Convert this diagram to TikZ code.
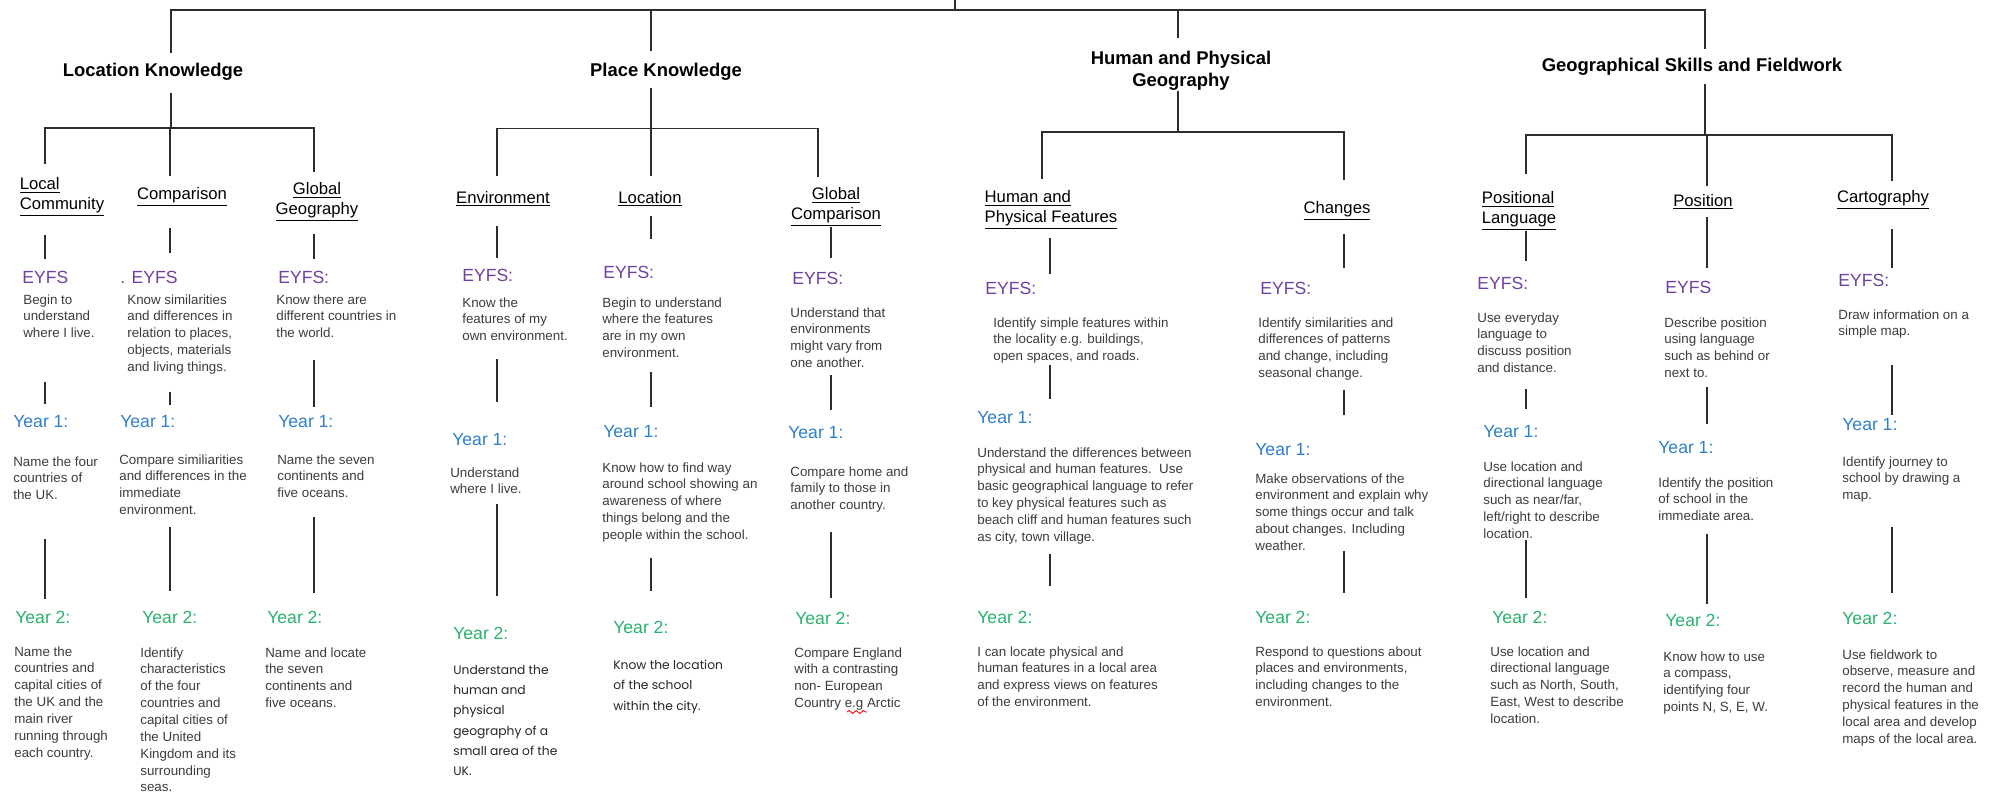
\documentclass[tikz,border=0pt]{standalone}
\usepackage{fontspec}
\setmainfont{Liberation Sans}
\newfontfamily\comicfont{Poppins}
\usetikzlibrary{decorations.pathmorphing}
\definecolor{eyfscol}{RGB}{112,64,160}
\definecolor{yronecol}{RGB}{46,128,200}
\definecolor{yrtwocol}{RGB}{40,178,110}
\definecolor{bodycol}{RGB}{60,60,60}
\definecolor{linecol}{RGB}{45,45,45}
\newdimen\pxu \pxu=0.02cm
\begin{document}
\begin{tikzpicture}[x=0.02cm, y=-0.02cm,
  head/.style={font=\bfseries\fontsize{10.5}{12.5}\selectfont, align=center, inner sep=0pt},
  sub/.style={font=\fontsize{9.5}{11.5}\selectfont, align=center, inner sep=0pt},
  subl/.style={sub, align=left},
  eyfs/.style={anchor=west, inner sep=0pt, font=\fontsize{10}{12}\selectfont, text=eyfscol},
  yrone/.style={eyfs, text=yronecol},
  yrtwo/.style={eyfs, text=yrtwocol},
  txt/.style={anchor=north west, inner sep=0pt, align=left, font=\fontsize{7.6}{9.6}\selectfont, text=bodycol},
  comic/.style={txt, font=\comicfont\fontsize{7}{11.5}\selectfont, text=black!85},
  conn/.style={draw=linecol, line width=0.9pt},
  gap/.style 2 args={shorten <=#1\pxu, shorten >=#2\pxu}]
\fill[white] (0,0) rectangle (2002,798);
\useasboundingbox (0,0) rectangle (2002,798);

% rails and line columns
\coordinate (root) at (955,0);
\coordinate (rail) at (0,10);
\coordinate (lkx) at (171,0);
\coordinate (pkx) at (651,0);
\coordinate (hpx) at (1178,0);
\coordinate (gsx) at (1705,0);
\coordinate (lkbar) at (0,128);
\coordinate (pkbar) at (0,128.5);
\coordinate (hpbar) at (0,132);
\coordinate (gsbar) at (0,135);
\coordinate (c1) at (45,0);
\coordinate (c2) at (170,0);
\coordinate (c3) at (314,0);
\coordinate (c4) at (497,0);
\coordinate (c5) at (651,0);
\coordinate (c6) at (831,0);
\coordinate (d6) at (818,0);
\coordinate (c7) at (1050,0);
\coordinate (d7) at (1042,0);
\coordinate (c8) at (1344,0);
\coordinate (c9) at (1526,0);
\coordinate (c10) at (1707,0);
\coordinate (c11) at (1892,0);

% headings
\node[head] (lk) at (153,72) {Location Knowledge};
\node[head] (pk) at (666,72) {Place Knowledge};
\node[head] (hp) at (1181,71) {Human and Physical\\Geography};
\node[head] (gs) at (1692,67) {Geographical Skills and Fieldwork};

\draw[conn] (root) -- (root |- rail);
\draw[conn, gap={10}{9}] (lkx |- lk.north) -- (lkx |- rail) -- (gsx |- rail) -- (gsx |- gs.north);
\draw[conn, gap={0}{12}] (pkx |- rail) -- (pkx |- pk.north);
\draw[conn, gap={0}{13}] (hpx |- rail) -- (hpx |- hp.north);

% sub headings
\node[subl] (s1) at (62,197) {\underline{Local}\\\underline{Community}};
\node[sub] (s2) at (182,197) {\underline{Comparison}};
\node[sub] (s3) at (317,202) {\underline{Global}\\\underline{Geography}};
\node[sub] (s4) at (503,199) {\underline{Environment}};
\node[sub] (s5) at (650,199) {\underline{Location}};
\node[sub] (s6) at (836,207) {\underline{Global}\\\underline{Comparison}};
\node[subl] (s7) at (1051,210) {\underline{Human and}\\\underline{Physical Features}};
\node[sub] (s8) at (1337,211) {\underline{Changes}};
\node[subl] (s9) at (1519,211) {\underline{Positional}\\\underline{Language}};
\node[sub] (s10) at (1703,202) {\underline{Position}};
\node[sub] (s11) at (1883,200) {\underline{Cartography}};

\draw[conn, gap={12}{0}] (lkx |- lk.south) -- (lkx |- lkbar);
\draw[conn, gap={13}{10}] (c1 |- s1.north) -- (c1 |- lkbar) -- (c3 |- lkbar) -- (c3 |- s3.north);
\draw[conn, gap={0}{11}] (c2 |- lkbar) -- (c2 |- s2.north);

\draw[conn, gap={7}{0}] (pkx |- pk.south) -- (pkx |- pkbar);
\draw[conn, gap={15}{10}] (c4 |- s4.north) -- (c4 |- pkbar) -- (d6 |- pkbar) -- (d6 |- s6.north);
\draw[conn, gap={0}{15}] (c5 |- pkbar) -- (c5 |- s5.north);

\draw[conn, gap={0}{0}] (hpx |- hp.south) -- (hpx |- hpbar);
\draw[conn, gap={11}{21}] (d7 |- s7.north) -- (d7 |- hpbar) -- (c8 |- hpbar) -- (c8 |- s8.north);

\draw[conn, gap={8}{0}] (gsx |- gs.south) -- (gsx |- gsbar);
\draw[conn, gap={17}{9}] (c9 |- s9.north) -- (c9 |- gsbar) -- (c11 |- gsbar) -- (c11 |- s11.north);
\draw[conn, gap={0}{8}] (c10 |- gsbar) -- (c10 |- s10.north);

% Local Community
\node[eyfs] (e1) at (22,277) {EYFS};
\node[txt] (et1) at (23,294) {Begin to\\understand\\where I live.};
\node[yrone] (a1) at (13,422) {Year 1:};
\node[txt] (at1) at (13,456) {Name the four\\countries of\\the UK.};
\node[yrtwo] (b1) at (15,617) {Year 2:};
\node[txt] (bt1) at (14,646) {Name the\\countries and\\capital cities of\\the UK and the\\main river\\running through\\each country.};
\draw[conn, gap={18}{11}] (s1.south -| c1) -- (e1.north -| c1);
\draw[conn, gap={44}{12}] (et1.south -| c1) -- (a1.north -| c1);
\draw[conn, gap={39}{11}] (at1.south -| c1) -- (b1.north -| c1);

% Comparison
\node[eyfs] (e2) at (120,277) {. EYFS};
\node[txt] (et2) at (127,294) {Know similarities\\and differences in\\relation to places,\\objects, materials\\and living things.};
\node[yrone] (a2) at (120,422) {Year 1:};
\node[txt] (at2) at (119,454) {Compare similiarities\\and differences in the\\immediate\\environment.};
\node[yrtwo] (b2) at (142,617) {Year 2:};
\node[txt] (bt2) at (140,647) {Identify\\characteristics\\of the four\\countries and\\capital cities of\\the United\\Kingdom and its\\surrounding\\seas.};
\draw[conn, gap={21}{17}] (s2.south -| c2) -- (e2.north -| c2);
\draw[conn, gap={17}{11}] (et2.south -| c2) -- (a2.north -| c2);
\draw[conn, gap={12}{19}] (at2.south -| c2) -- (b2.north -| c2);

% Global Geography
\node[eyfs] (e3) at (278,277) {EYFS:};
\node[txt] (et3) at (276,294) {Know there are\\different countries in\\the world.};
\node[yrone] (a3) at (278,422) {Year 1:};
\node[txt] (at3) at (277,454) {Name the seven\\continents and\\five oceans.};
\node[yrtwo] (b3) at (267,617) {Year 2:};
\node[txt] (bt3) at (265,647) {Name and locate\\the seven\\continents and\\five oceans.};
\draw[conn, gap={12}{11}] (s3.south -| c3) -- (e3.north -| c3);
\draw[conn, gap={22}{9}] (et3.south -| c3) -- (a3.north -| c3);
\draw[conn, gap={19}{17}] (at3.south -| c3) -- (b3.north -| c3);

% Environment
\node[eyfs] (e4) at (462,275) {EYFS:};
\node[txt] (et4) at (462,297) {Know the\\features of my\\own environment.};
\node[yrone] (a4) at (452,440) {Year 1:};
\node[txt] (at4) at (450,467) {Understand\\where I live.};
\node[yrtwo] (b4) at (453,633) {Year 2:};
\node[comic] (bt4) at (453,665) {Understand the\\human and\\physical\\geography of a\\small area of the\\UK.};
\draw[conn, gap={19}{10}] (s4.south -| c4) -- (e4.north -| c4);
\draw[conn, gap={18}{32}] (et4.south -| c4) -- (a4.north -| c4);
\draw[conn, gap={10}{30}] (at4.south -| c4) -- (b4.north -| c4);

% Location
\node[eyfs] (e5) at (603,272) {EYFS:};
\node[txt] (et5) at (602,297) {Begin to understand\\where the features\\are in my own\\environment.};
\node[yrone] (a5) at (603,432) {Year 1:};
\node[txt] (at5) at (602,462) {Know how to find way\\around school showing an\\awareness of where\\things belong and the\\people within the school.};
\node[yrtwo] (b5) at (613,627) {Year 2:};
\node[comic] (bt5) at (613,660) {Know the location\\of the school\\within the city.};
\draw[conn, gap={9}{26}] (s5.south -| c5) -- (e5.north -| c5);
\draw[conn, gap={14}{19}] (et5.south -| c5) -- (a5.north -| c5);
\draw[conn, gap={15}{29}] (at5.south -| c5) -- (b5.north -| c5);

% Global Comparison
\node[eyfs] (e6) at (792,278) {EYFS:};
\node[txt] (et6) at (790,307) {Understand that\\environments\\might vary from\\one another.};
\node[yrone] (a6) at (788,433) {Year 1:};
\node[txt] (at6) at (790,466) {Compare home and\\family to those in\\another country.};
\node[yrtwo] (b6) at (795,618) {Year 2:};
\node[txt] (bt6) at (794,647) {Compare England\\with a contrasting\\non- European\\Country e.g Arctic};
\draw[conn, gap={0}{13}] (s6.south -| c6) -- (e6.north -| c6);
\draw[conn, gap={7}{17}] (et6.south -| c6) -- (a6.north -| c6);
\draw[conn, gap={19}{13}] (at6.south -| c6) -- (b6.north -| c6);
\draw[red, line width=0.5pt, decorate, decoration={snake, amplitude=0.8, segment length=4}] (847,712) -- (867,712);

% Human and Physical Features
\node[eyfs] (e7) at (985,288) {EYFS:};
\node[txt] (et7) at (993,317) {Identify simple features within\\the locality e.g. buildings,\\open spaces, and roads.};
\node[yrone] (a7) at (977,418) {Year 1:};
\node[txt] (at7) at (977,447) {Understand the differences between\\physical and human features.\ \ Use\\basic geographical language to refer\\to key physical features such as\\beach cliff and human features such\\as city, town village.};
\node[yrtwo] (b7) at (977,617) {Year 2:};
\node[txt] (bt7) at (977,646) {I can locate physical and\\human features in a local area\\and express views on features\\of the environment.};
\draw[conn, gap={8}{7}] (s7.south -| c7) -- (e7.north -| c7);
\draw[conn, gap={1}{13}] (et7.south -| c7) -- (a7.north -| c7);
\draw[conn, gap={10}{24}] (at7.south -| c7) -- (b7.north -| c7);

% Changes
\node[eyfs] (e8) at (1260,288) {EYFS:};
\node[txt] (et8) at (1258,317) {Identify similarities and\\differences of patterns\\and change, including\\seasonal change.};
\node[yrone] (a8) at (1255,450) {Year 1:};
\node[txt] (at8) at (1255,473) {Make observations of the\\environment and explain why\\some things occur and talk\\about changes. Including\\weather.};
\node[yrtwo] (b8) at (1255,617) {Year 2:};
\node[txt] (bt8) at (1255,646) {Respond to questions about\\places and environments,\\including changes to the\\environment.};
\draw[conn, gap={13}{13}] (s8.south -| c8) -- (e8.north -| c8);
\draw[conn, gap={9}{29}] (et8.south -| c8) -- (a8.north -| c8);
\draw[conn, gap={0}{17}] (at8.south -| c8) -- (b8.north -| c8);

% Positional Language
\node[eyfs] (e9) at (1477,283) {EYFS:};
\node[txt] (et9) at (1477,312) {Use everyday\\language to\\discuss position\\and distance.};
\node[yrone] (a9) at (1483,432) {Year 1:};
\node[txt] (at9) at (1483,461) {Use location and\\directional language\\such as near/far,\\left/right to describe\\location.};
\node[yrtwo] (b9) at (1492,617) {Year 2:};
\node[txt] (bt9) at (1490,646) {Use location and\\directional language\\such as North, South,\\East, West to describe\\location.};
\draw[conn, gap={0}{15}] (s9.south -| c9) -- (e9.north -| c9);
\draw[conn, gap={16}{17}] (et9.south -| c9) -- (a9.north -| c9);
\draw[conn, gap={1}{12}] (at9.south -| c9) -- (b9.north -| c9);

% Position
\node[eyfs] (e10) at (1665,287) {EYFS};
\node[txt] (et10) at (1664,317) {Describe position\\using language\\such as behind or\\next to.};
\node[yrone] (a10) at (1658,448) {Year 1:};
\node[txt] (at10) at (1658,477) {Identify the position\\of school in the\\immediate area.};
\node[yrtwo] (b10) at (1665,620) {Year 2:};
\node[txt] (bt10) at (1663,651) {Know how to use\\a compass,\\identifying four\\points N, S, E, W.};
\draw[conn, gap={7}{12}] (s10.south -| c10) -- (e10.north -| c10);
\draw[conn, gap={9}{18}] (et10.south -| c10) -- (a10.north -| c10);
\draw[conn, gap={13}{9}] (at10.south -| c10) -- (b10.north -| c10);

% Cartography
\node[eyfs] (e11) at (1838,280) {EYFS:};
\node[txt] (et11) at (1838,309) {Draw information on a\\simple map.};
\node[yrone] (a11) at (1842,425) {Year 1:};
\node[txt] (at11) at (1842,456) {Identify journey to\\school by drawing a\\map.};
\node[yrtwo] (b11) at (1842,618) {Year 2:};
\node[txt] (bt11) at (1842,649) {Use fieldwork to\\observe, measure and\\record the human and\\physical features in the\\local area and develop\\maps of the local area.};
\draw[conn, gap={19}{5}] (s11.south -| c11) -- (e11.north -| c11);
\draw[conn, gap={26}{4}] (et11.south -| c11) -- (a11.north -| c11);
\draw[conn, gap={24}{18}] (at11.south -| c11) -- (b11.north -| c11);
\end{tikzpicture}
\end{document}
